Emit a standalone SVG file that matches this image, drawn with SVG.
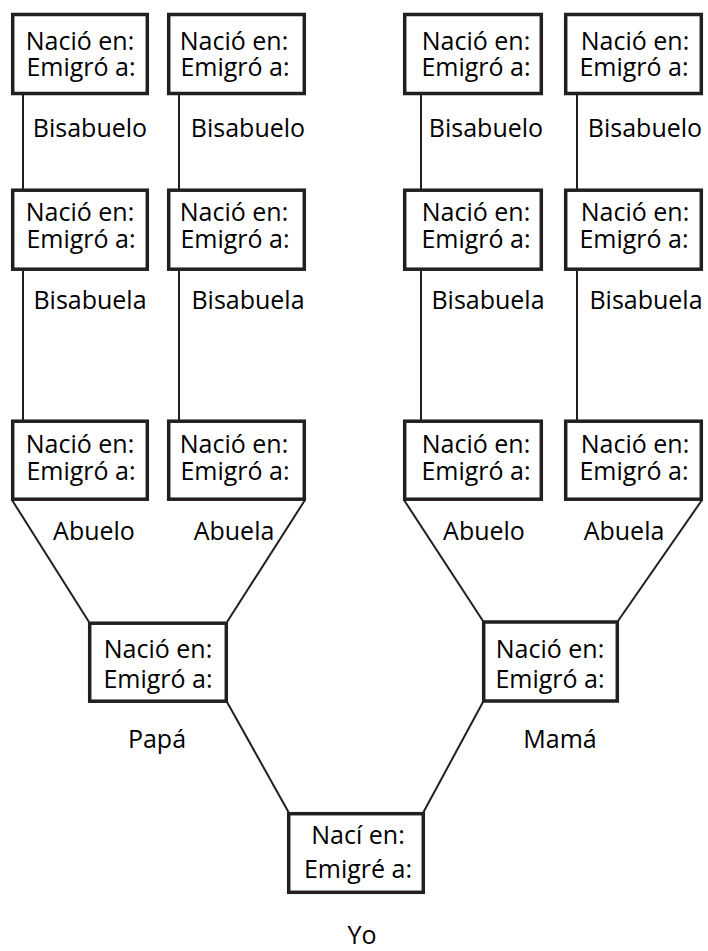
<svg xmlns="http://www.w3.org/2000/svg" width="708" height="951" viewBox="0 0 708 951">
<style>
.box{fill:#fff;stroke:#231f20;stroke-width:3.5}
.ln{stroke:#231f20;stroke-width:2;fill:none}
text{font-family:"Open Sans","Noto Sans",sans-serif;font-size:25px;fill:#000;text-anchor:middle}
</style>
<rect width="708" height="951" fill="#fff"/>
<g id="connectors">
<line class="ln" x1="23" y1="95" x2="23" y2="189"/>
<line class="ln" x1="23" y1="271" x2="23" y2="420"/>
<line class="ln" x1="179" y1="95" x2="179" y2="189"/>
<line class="ln" x1="179" y1="271" x2="179" y2="420"/>
<line class="ln" x1="421" y1="95" x2="421" y2="189"/>
<line class="ln" x1="421" y1="271" x2="421" y2="420"/>
<line class="ln" x1="577" y1="95" x2="577" y2="189"/>
<line class="ln" x1="577" y1="271" x2="577" y2="420"/>
<line class="ln" x1="12" y1="500" x2="89" y2="622"/>
<line class="ln" x1="305" y1="500" x2="227" y2="622"/>
<line class="ln" x1="404" y1="500" x2="483" y2="621"/>
<line class="ln" x1="702" y1="500" x2="618" y2="621"/>
<line class="ln" x1="227" y1="702" x2="289" y2="813"/>
<line class="ln" x1="483" y1="702" x2="423" y2="813"/>
</g>
<g id="n1"><rect class="box" x="12.7" y="14.5" width="134.6" height="79"/><text x="80" y="50">Nació en:</text><text x="81" y="76">Emigró a:</text><text x="90" y="137">Bisabuelo</text></g>
<g id="n2"><rect class="box" x="168.7" y="14.5" width="135.6" height="79"/><text x="234" y="50">Nació en:</text><text x="235" y="76">Emigró a:</text><text x="248" y="137">Bisabuelo</text></g>
<g id="n3"><rect class="box" x="404.7" y="14.5" width="136.6" height="79"/><text x="476" y="50">Nació en:</text><text x="476" y="76">Emigró a:</text><text x="486" y="137">Bisabuelo</text></g>
<g id="n4"><rect class="box" x="565.7" y="14.5" width="135.6" height="79"/><text x="635" y="50">Nació en:</text><text x="634" y="76">Emigró a:</text><text x="645" y="137">Bisabuelo</text></g>
<g id="n5"><rect class="box" x="12.7" y="190.2" width="134.6" height="79"/><text x="80" y="221">Nació en:</text><text x="81" y="248">Emigró a:</text><text x="90" y="309">Bisabuela</text></g>
<g id="n6"><rect class="box" x="168.7" y="190.2" width="135.6" height="79"/><text x="234" y="221">Nació en:</text><text x="235" y="248">Emigró a:</text><text x="248" y="309">Bisabuela</text></g>
<g id="n7"><rect class="box" x="404.7" y="190.2" width="136.6" height="79"/><text x="476" y="221">Nació en:</text><text x="476" y="248">Emigró a:</text><text x="488" y="309">Bisabuela</text></g>
<g id="n8"><rect class="box" x="565.7" y="190.2" width="135.6" height="79"/><text x="635" y="221">Nació en:</text><text x="634" y="248">Emigró a:</text><text x="646" y="309">Bisabuela</text></g>
<g id="n9"><rect class="box" x="12.7" y="421.2" width="134.6" height="78"/><text x="80" y="453">Nació en:</text><text x="81" y="480">Emigró a:</text><text x="94" y="540">Abuelo</text></g>
<g id="n10"><rect class="box" x="168.7" y="421.2" width="135.6" height="78"/><text x="234" y="453">Nació en:</text><text x="235" y="480">Emigró a:</text><text x="234" y="540">Abuela</text></g>
<g id="n11"><rect class="box" x="404.7" y="421.2" width="136.6" height="78"/><text x="476" y="453">Nació en:</text><text x="476" y="480">Emigró a:</text><text x="484" y="540">Abuelo</text></g>
<g id="n12"><rect class="box" x="565.7" y="421.2" width="135.6" height="78"/><text x="635" y="453">Nació en:</text><text x="634" y="480">Emigró a:</text><text x="624" y="540">Abuela</text></g>
<g id="papa"><rect class="box" x="89.7" y="623.2" width="136.6" height="78"/><text x="158" y="658">Nació en:</text><text x="158" y="688">Emigró a:</text><text x="157" y="748">Papá</text></g>
<g id="mama"><rect class="box" x="483.7" y="622" width="133.6" height="79"/><text x="550" y="658">Nació en:</text><text x="550" y="688">Emigró a:</text><text x="560" y="748">Mamá</text></g>
<g id="yo"><rect class="box" x="288.7" y="813.7" width="134.6" height="78.6"/><text x="358" y="844">Nací en:</text><text x="358" y="878">Emigré a:</text><text x="362" y="944">Yo</text></g>
</svg>
